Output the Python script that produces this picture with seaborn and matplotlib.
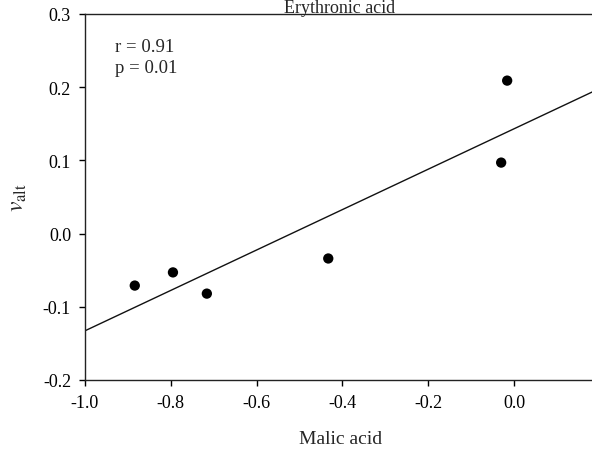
import matplotlib
matplotlib.use("Agg")
import matplotlib.pyplot as plt
import seaborn as sns
import pandas as pd

malic_acid = [-0.884, -0.795, -0.716, -0.433, -0.030, -0.016]
v_alt = [-0.071, -0.053, -0.082, -0.034, 0.097, 0.209]
x_ticks = [-1.0, -0.8, -0.6, -0.4, -0.2, 0.0]
y_ticks = [-0.2, -0.1, 0.0, 0.1, 0.2, 0.3]

df = pd.DataFrame({"Malic acid": malic_acid, "v_alt": v_alt})

sns.set_style("ticks")
plt.rcParams["font.family"] = ["Liberation Serif", "DejaVu Serif"]
plt.rcParams["mathtext.fontset"] = "stix"

fig = plt.figure(figsize=(5.92, 4.56), dpi=100)
ax = fig.add_axes([85/592, 75/456, 1 - 85/592 + 0.006, (381-15)/456])
ax.set_xlim(-1.0, 0.19)
ax.set_ylim(-0.2, 0.3)

sns.regplot(data=df, x="Malic acid", y="v_alt", ax=ax, ci=None, truncate=False,
            color="black",
            scatter_kws=dict(s=55, alpha=1, edgecolor="none", zorder=3),
            line_kws=dict(color="#111111", lw=1.0))

ax.set_xlim(-1.0, 0.19)
ax.set_ylim(-0.2, 0.3)
ax.set_xticks(x_ticks)
ax.set_xticklabels([f"{t:.1f}" for t in x_ticks])
ax.set_yticks(y_ticks)
ax.set_yticklabels([f"{t:.1f}" for t in y_ticks])
ax.tick_params(direction="out", length=4, width=1, labelsize=13, colors="black", pad=6)
for s in ["left", "bottom", "top"]:
    ax.spines[s].set_linewidth(1.0)
    ax.spines[s].set_color("#222222")
ax.spines["right"].set_visible(False)

ax.set_xlabel("Malic acid", fontsize=14, labelpad=14)
ax.set_ylabel(r"$v_{\mathrm{alt}}$", fontsize=17, labelpad=10)
fig.text(340/592, 0.999, "Erythronic acid", fontsize=13, ha="center", va="top")

ax.text((115-85)/507, 0.935, "r = 0.91\np = 0.01", transform=ax.transAxes,
        fontsize=13.5, va="top", ha="left", linespacing=1.33)

fig.savefig("out.png", dpi=100)
